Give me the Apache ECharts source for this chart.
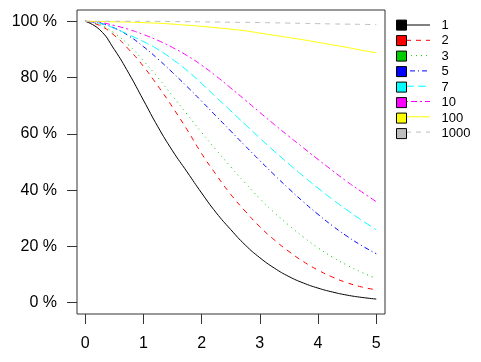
<!DOCTYPE html>
<html>
<head>
<meta charset="utf-8">
<script src="https://cdn.jsdelivr.net/npm/echarts@6/dist/echarts.min.js"></script>
<style>
html, body { margin: 0; padding: 0; background: #fff; }
#chart { width: 481px; height: 362px; }
</style>
</head>
<body>
<div id="chart"></div>
<script>
var xs = [0, 0.25, 0.5, 0.75, 1, 1.25, 1.5, 1.75, 2, 2.25, 2.5, 2.75, 3, 3.25, 3.5, 3.75, 4, 4.25, 4.5, 4.75, 5];

// one curve per legend entry (values in %)
var names = ['1', '2', '3', '5', '7', '10', '100', '1000'];
var curve1    = [100, 97, 90, 81.5, 72, 62.5, 54, 46.5, 39, 32, 26, 20.5, 16, 12.3, 9.3, 7, 5.2, 3.8, 2.7, 1.9, 1.3];
var curve2    = [100, 98.5, 95, 90, 84, 77, 69.5, 61.5, 53, 45.5, 38.5, 32.5, 27, 22.3, 18.2, 14.6, 11.6, 9.1, 7.1, 5.6, 4.6];
var curve3    = [100, 98.8, 95.8, 91.5, 86, 80, 73.5, 67, 60.5, 54.3, 48.3, 42.5, 37, 32, 27.5, 23.3, 19.5, 16.2, 13.3, 10.8, 8.6];
var curve5    = [100, 99.3, 97.6, 94.8, 91, 86.6, 81.8, 76.8, 71.6, 66.3, 61, 55.7, 50.5, 45.4, 40.5, 35.8, 31.4, 27.3, 23.6, 20.3, 17.4];
var curve7    = [100, 99.3, 97.5, 95.2, 92.8, 90, 86.5, 82.5, 77.9, 73, 68.2, 63.3, 58.5, 53.8, 49.3, 44.9, 40.7, 36.7, 32.9, 29.3, 25.9];
var curve10   = [100, 99.6, 98.5, 97.1, 95.3, 93.2, 90.7, 87.8, 84.4, 80.5, 76.3, 72, 67.6, 63.3, 59.1, 55, 50.9, 46.9, 43, 39.4, 35.9];
var curve100  = [100, 99.9, 99.8, 99.7, 99.5, 99.3, 99, 98.6, 98.2, 97.7, 97.2, 96.6, 95.8, 95, 94.2, 93.4, 92.5, 91.6, 90.7, 89.7, 88.8];
var curve1000 = [100, 100, 100, 99.99, 99.97, 99.95, 99.9, 99.85, 99.8, 99.72, 99.65, 99.6, 99.55, 99.45, 99.35, 99.25, 99.15, 99.05, 98.98, 98.9, 98.8];
var curves = [curve1, curve2, curve3, curve5, curve7, curve10, curve100, curve1000];

var xTicks = [0, 1, 2, 3, 4, 5];
var yTicks = [0, 20, 40, 60, 80, 100];

var colors = ['#000000', '#ff0000', '#00cd00', '#0000ff', '#00ffff', '#ff00ff', '#ffff00', '#bebebe'];
var dashes = ['solid', [5, 5], [1, 4], [1, 3, 5, 3], [8, 4], [2, 3, 6, 3], 'solid', [5, 5]];

var font = 'Liberation Sans, Arial, Helvetica, sans-serif';

var series = [];
for (var i = 0; i < names.length; i++) {
    var pts = [];
    for (var k = 0; k < xs.length; k++) {
        pts.push([xs[k], curves[i][k]]);
    }
    series.push({
        name: names[i],
        type: 'line',
        data: pts,
        smooth: 0.5,
        showSymbol: false,
        symbol: 'none',
        silent: true,
        lineStyle: { color: colors[i], width: 1, type: dashes[i] },
        itemStyle: { color: colors[i], borderColor: '#000', borderWidth: 1 }
    });
}

// legend sample lines between the box and the label
var legendFirst = 25, legendStep = 15.3;
var graphics = [];
for (var j = 0; j < names.length; j++) {
    var cy = legendFirst + j * legendStep;
    graphics.push({
        type: 'line',
        silent: true,
        shape: { x1: 406, y1: cy, x2: 430, y2: cy },
        style: { stroke: colors[j], lineWidth: 1, lineDash: dashes[j] === 'solid' ? null : dashes[j] }
    });
}

var chart = echarts.init(document.getElementById('chart'), null, { renderer: 'canvas' });
var option = {
    animation: false,
    backgroundColor: '#fff',
    grid: {
        left: 77, top: 10, right: 96, bottom: 48,
        show: true, borderColor: '#333', borderWidth: 1, backgroundColor: 'transparent'
    },
    legend: {
        orient: 'vertical',
        left: 396,
        top: 18.6,
        padding: 0,
        icon: 'rect',
        itemWidth: 10,
        itemHeight: 10,
        itemGap: 2.5,
        selectedMode: false,
        data: names,
        itemStyle: { borderColor: '#000', borderWidth: 1 },
        textStyle: { fontFamily: font, fontSize: 13, color: '#000', padding: [0, 0, 0, 30] }
    },
    xAxis: {
        type: 'value',
        min: -0.14,
        max: 5.15,
        axisLine: { show: false, onZero: false },
        splitLine: { show: false },
        axisTick: { show: true, length: 10, inside: false, customValues: xTicks, lineStyle: { color: '#333' } },
        axisLabel: { customValues: xTicks, margin: 22, fontFamily: font, fontSize: 16, color: '#000' }
    },
    yAxis: {
        type: 'value',
        min: -4,
        max: 104,
        axisLine: { show: false, onZero: false },
        splitLine: { show: false },
        axisTick: { show: true, length: 10, inside: false, customValues: yTicks, lineStyle: { color: '#333' } },
        axisLabel: {
            customValues: yTicks, margin: 20, fontFamily: font, fontSize: 16, color: '#000',
            formatter: function (v) { return v + ' %'; }
        }
    },
    graphic: graphics,
    series: series
};
chart.setOption(option);
</script>
</body>
</html>
